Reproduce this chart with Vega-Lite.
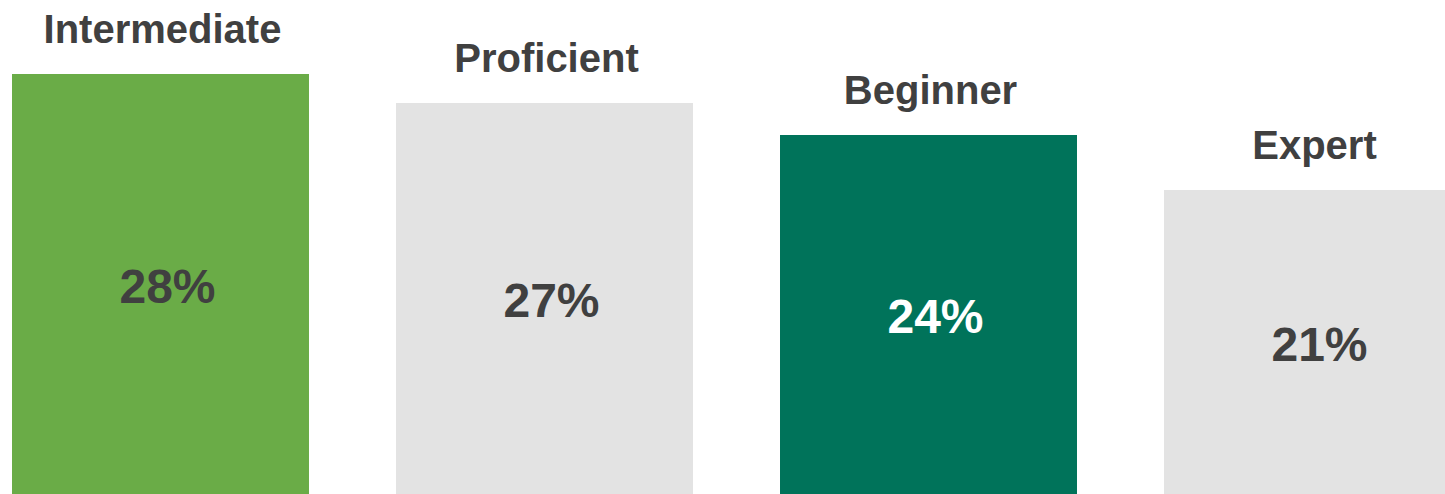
{
  "$schema": "https://vega.github.io/schema/vega-lite/v6.json",
  "width": 1445,
  "height": 494,
  "autosize": "none",
  "padding": 0,
  "background": "white",
  "config": {"view": {"stroke": null}},
  "data": {
    "values": [
      {"level": "Intermediate", "pct": 28.48, "label": "28%", "color": "green"},
      {"level": "Proficient", "pct": 26.52, "label": "27%", "color": "grey"},
      {"level": "Beginner", "pct": 24.35, "label": "24%", "color": "teal"},
      {"level": "Expert", "pct": 20.62, "label": "21%", "color": "grey"}
    ]
  },
  "encoding": {
    "x": {
      "field": "level",
      "type": "nominal",
      "sort": null,
      "scale": {"range": [12, 1461], "paddingInner": 0.2266, "paddingOuter": 0},
      "axis": null
    }
  },
  "resolve": {"scale": {"y": "independent"}},
  "layer": [
    {
      "mark": {"type": "bar"},
      "encoding": {
        "y": {
          "field": "pct",
          "type": "quantitative",
          "scale": {"domain": [0, 33.5], "nice": false, "zero": true},
          "axis": null
        },
        "color": {
          "field": "color",
          "type": "nominal",
          "scale": {"domain": ["green", "grey", "teal"], "range": ["#6aac47", "#e3e3e3", "#00735a"]},
          "legend": null
        }
      }
    },
    {
      "mark": {"type": "text", "baseline": "alphabetic", "align": "center", "dy": -31, "dx": 2, "font": "Liberation Sans", "fontWeight": "bold", "fontSize": 40, "color": "#404040"},
      "encoding": {
        "y": {
          "field": "pct",
          "type": "quantitative",
          "scale": {"domain": [0, 33.5], "nice": false, "zero": true},
          "axis": null
        },
        "text": {"field": "level", "type": "nominal"}
      }
    },
    {
      "mark": {"type": "text", "baseline": "middle", "align": "center", "dy": 5, "dx": 7, "font": "Liberation Sans", "fontWeight": "bold", "fontSize": 48},
      "encoding": {
        "y": {
          "field": "pct",
          "type": "quantitative",
          "scale": {"domain": [0, 67], "nice": false, "zero": true},
          "axis": null
        },
        "text": {"field": "label", "type": "nominal"},
        "color": {
          "condition": {"test": "datum.color === 'teal'", "value": "#ffffff"},
          "value": "#404040"
        }
      }
    }
  ]
}
